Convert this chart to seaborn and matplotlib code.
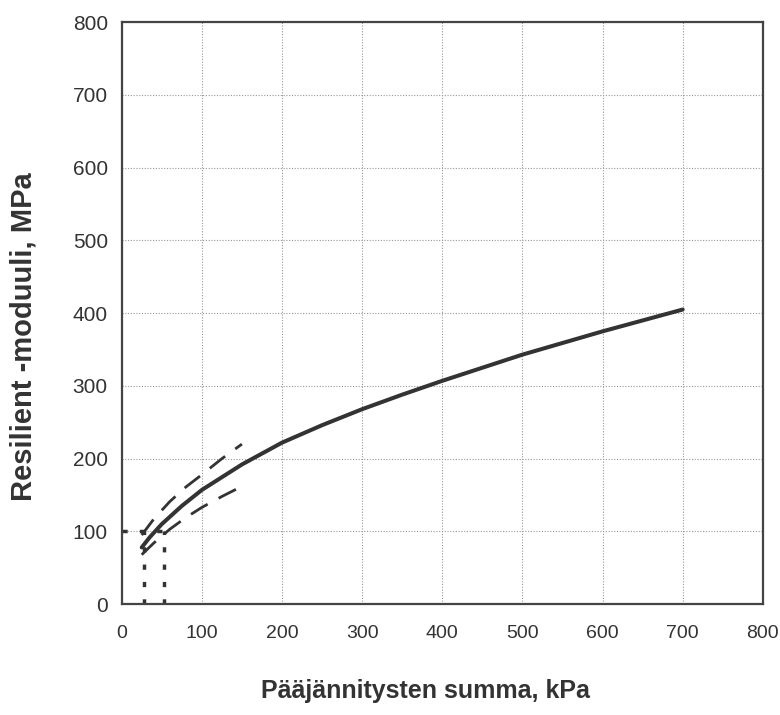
import matplotlib
matplotlib.use("Agg")
import matplotlib.pyplot as plt
import seaborn as sns
import pandas as pd

# Data
solid_x = [25, 35, 50, 75, 100, 150, 200, 250, 300, 350, 400, 450, 500, 550, 600, 650, 700]
solid_y = [78, 92, 110, 135, 157, 192, 222, 246, 268, 288, 307, 325, 343, 359, 375, 390, 405]
upper_x = [25, 40, 60, 80, 100, 125, 150]
upper_y = [95, 117, 141, 161, 178, 200, 220]
lower_x = [25, 40, 60, 80, 100, 125, 150]
lower_y = [68, 84, 103, 119, 133, 148, 162]
ref_level = 100
ref_x_low = 28
ref_x_high = 53
x_ticks = [0, 100, 200, 300, 400, 500, 600, 700, 800]
y_ticks = [0, 100, 200, 300, 400, 500, 600, 700, 800]

sns.set_theme(style="white")
plt.rcParams['font.family'] = ['Liberation Sans', 'DejaVu Sans']

fig = plt.figure(figsize=(7.8, 7.15), dpi=100)
ax = fig.add_axes([0.156, 0.155, 0.822, 0.814])

df_s = pd.DataFrame({"x": solid_x, "y": solid_y})
df_u = pd.DataFrame({"x": upper_x, "y": upper_y})
df_l = pd.DataFrame({"x": lower_x, "y": lower_y})

sns.lineplot(data=df_s, x="x", y="y", ax=ax, color="#333333", lw=2.9)
sns.lineplot(data=df_u, x="x", y="y", ax=ax, color="#333333", lw=2.0,
             linestyle=(0, (7, 4.5)))
sns.lineplot(data=df_l, x="x", y="y", ax=ax, color="#333333", lw=2.0,
             linestyle=(0, (7, 4.5)))

dot_style = dict(color="#333333", lw=2.5, linestyle=(0, (1.5, 3.5)))
ax.plot([0, ref_x_high], [ref_level, ref_level], **dot_style)
ax.plot([ref_x_low, ref_x_low], [0, ref_level], **dot_style)
ax.plot([ref_x_high, ref_x_high], [0, ref_level], **dot_style)

ax.set_xlim(0, 800)
ax.set_ylim(0, 800)
ax.set_xticks(x_ticks)
ax.set_yticks(y_ticks)
ax.grid(True, color="#999999", linestyle=(0, (1, 1.5)), lw=0.8)
for s in ax.spines.values():
    s.set_color("#444444")
    s.set_linewidth(1.6)
ax.tick_params(axis="both", which="both", direction="out", length=4,
               color="#777777", width=0.8, labelcolor="#333333")
ax.tick_params(axis="x", labelsize=14, pad=11)
ax.tick_params(axis="y", labelsize=15, pad=6)

ax.set_xlabel("Pääjännitysten summa, kPa", fontsize=18, fontweight="bold",
              color="#333333")
ax.set_ylabel("Resilient -moduuli, MPa", fontsize=21, fontweight="bold",
              color="#333333")
ax.xaxis.set_label_coords(0.473, -0.128)
ax.yaxis.set_label_coords(-0.131, 0.459)

fig.savefig("out.png", dpi=100, facecolor="white")
